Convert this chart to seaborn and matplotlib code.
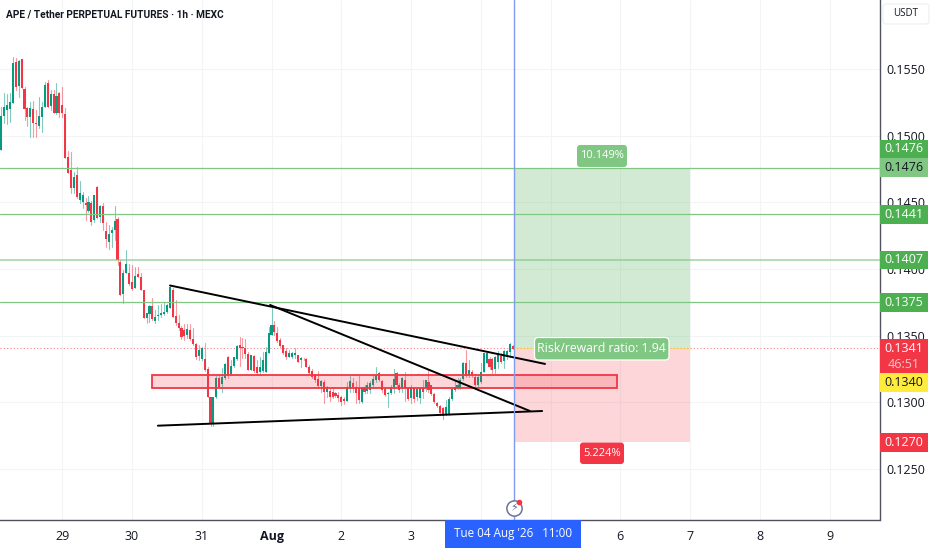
import numpy as np
import pandas as pd
import matplotlib
matplotlib.use("Agg")
import matplotlib.pyplot as plt
from matplotlib.patches import Rectangle, FancyBboxPatch
import seaborn as sns

first_hour = -21
opens = [.14892,.15147,.15192,.15197,.15242,.15555,.15372,.15572,.15347,.15210,
.15142,.15197,.15097,.15072,.15142,.15217,.15397,.15222,.15310,.15167,.15322,.15230,
.15162,.14842,.14742,.14605,.14705,.14517,.14505,.14492,.14435,.14492,.14367,.14617,.14392,.14475,.14287,.14205,.14267,.14292,.14372,.14055,.13810,.13967,.13967,.13900,.13855,.13960,.13937,.13842,.13635,.13662,.13725,.13610,.13647,.13655,.13662,.13680,.13710,.13842,.13647,.13597,
.13555,.13543,.13505,.13543,.13473,.13438,.13348,.13323,.13323,.13248,.13043,.12843,.13038,.13180,.13138,.13180,.13343,.13213,.13273,.13323,.13430,.13418,.13405,.13363,.13243,.13348,.13263,.13230,.13238,.13230,.13373,.13505,.13580,.13523,.13468,.13428,.13388,.13343,.13338,.13355,.13355,.13318,.13328,.13328,.13263,.13238,.13205,.13173,.13123,.13155,.13080,.13085,.13080,.13068,.13055,.13038,.13023,.13013,
.13105,.13143,.13118,.13105,.13005,.13118,.13088,.13093,.13130,.13168,.13218,.13163,.13098,.13063,.13073,.13113,.13218,.13130,.13105,.13168,.13105,.13030,.13105,.13043,.13030,.13105,.13105,.13155,.13130,.13063,.12998,.12973,.12955,.12905,.12905,.13023,.13093,.13105,.13105,.13173,.13293,.13205,.13230,.13193,.13130,.13155,.13230,.13298,.13323,.13323,.13248,.13305,.13348,.13313,.13338,.13380,.13423]
closes = [.15147,.15217,.15230,.15250,.15542,.15367,.15562,.15355,.15197,.15137,.15205,.15092,.15084,.15147,.15217,.15380,.15217,.15310,.15167,.15297,.15172,.15167,
.14830,.14722,.14605,.14692,.14537,.14572,.14555,.14480,.14505,.14355,.14555,.14385,.14475,.14342,.14225,.14260,.14292,.14360,.14067,.13805,.13972,.14037,.13885,.13847,.13947,.13942,.13842,.13635,.13667,.13722,.13622,.13637,.13655,.13672,.13680,.13730,.13862,.13642,.13592,.13555,
.13488,.13498,.13548,.13473,.13438,.13338,.13393,.13410,.13243,.13043,.12843,.13038,.13180,.13118,.13188,.13288,.13205,.13273,.13343,.13425,.13405,.13405,.13363,.13243,.13355,.13238,.13223,.13268,.13318,.13380,.13518,.13580,.13530,.13463,.13423,.13368,.13338,.13373,.13368,.13373,.13305,.13330,.13323,.13268,.13223,.13193,.13168,.13123,.13163,.13080,.13118,.13038,.13043,.13048,.13030,.13005,.13013,.13118,
.13163,.13113,.13073,.13018,.13105,.13080,.13130,.13148,.13173,.13205,.13168,.13093,.13055,.13073,.13118,.13173,.13130,.13093,.13180,.13105,.13023,.13118,.13023,.13098,.13105,.13080,.13168,.13093,.13063,.13005,.12973,.12918,.12900,.12963,.13023,.13098,.13118,.13130,.13168,.13298,.13198,.13243,.13205,.13130,.13188,.13230,.13368,.13368,.13268,.13243,.13338,.13355,.13305,.13388,.13388,.13438,.13403]
highs = [.15217,.15317,.15310,.15322,.15592,.15580,.15567,.15572,.15367,.15217,.15255,.15260,.15192,.15292,.15255,.15405,.15417,.15342,.15342,.15397,.15330,.15367,
.15205,.14885,.14875,.14730,.14762,.14660,.14580,.14530,.14547,.14510,.14555,.14622,.14480,.14492,.14355,.14330,.14317,.14472,.14392,.14067,.13992,.14142,.14037,.14030,.14012,.14017,.13967,.13842,.13672,.13730,.13780,.13692,.13730,.13737,.13742,.13737,.13880,.13855,.13767,.13655,
.13573,.13588,.13588,.13588,.13555,.13443,.13430,.13418,.13443,.13263,.13043,.13043,.13198,.13205,.13255,.13293,.13348,.13318,.13343,.13430,.13493,.13480,.13473,.13380,.13355,.13355,.13318,.13343,.13380,.13418,.13568,.13705,.13613,.13568,.13480,.13430,.13405,.13393,.13380,.13405,.13355,.13338,.13330,.13330,.13280,.13248,.13210,.13238,.13168,.13168,.13123,.13098,.13105,.13080,.13080,.13048,.13043,.13155,
.13198,.13180,.13163,.13205,.13118,.13130,.13155,.13163,.13205,.13268,.13230,.13168,.13105,.13080,.13130,.13248,.13230,.13143,.13193,.13230,.13118,.13130,.13118,.13105,.13118,.13168,.13168,.13243,.13130,.13068,.13005,.12980,.12963,.13018,.13043,.13105,.13168,.13180,.13180,.13305,.13393,.13318,.13243,.13205,.13198,.13293,.13373,.13368,.13338,.13330,.13348,.13388,.13368,.13393,.13393,.13448,.13430]
lows = [.14892,.15092,.15084,.15105,.15242,.15342,.15292,.15355,.15117,.15072,.14992,.14992,.14992,.15054,.15030,.15217,.15217,.15192,.15167,.15162,.15142,.15137,
.14830,.14722,.14572,.14567,.14530,.14497,.14455,.14367,.14430,.14330,.14355,.14380,.14355,.14292,.14167,.14150,.14167,.14217,.14030,.13805,.13747,.13967,.13880,.13842,.13855,.13937,.13842,.13630,.13592,.13605,.13617,.13597,.13617,.13642,.13655,.13672,.13710,.13642,.13580,.13547,
.13473,.13468,.13480,.13468,.13430,.13323,.13318,.13318,.13238,.13043,.12823,.12823,.13030,.13113,.13080,.13173,.13180,.13205,.13263,.13318,.13273,.13330,.13330,.13243,.13243,.13230,.13205,.13205,.13230,.13230,.13373,.13505,.13505,.13455,.13418,.13363,.13328,.13338,.13330,.13330,.13300,.13263,.13318,.13263,.13213,.13180,.13155,.13113,.13080,.12998,.13043,.13013,.13030,.13038,.13013,.12980,.12988,.13013,
.13080,.13080,.12998,.12998,.12998,.13068,.13068,.13068,.13123,.13155,.13160,.13080,.13048,.12963,.13063,.13073,.13123,.13080,.13080,.13013,.13018,.12998,.13005,.13018,.12993,.13030,.13088,.13080,.13055,.12993,.12963,.12905,.12873,.12905,.12905,.13018,.13088,.13098,.13098,.13168,.13188,.13188,.13188,.13118,.13105,.13148,.13230,.13293,.13248,.13213,.13218,.13255,.13293,.13255,.13323,.13343,.13398]

price_ticks = [0.125, 0.130, 0.135, 0.140, 0.145, 0.150, 0.155]
day_hours = [0, 24, 48, 72, 96, 120, 144, 168, 192, 216, 240, 264]
day_labels = ["29", "30", "31", "Aug", "2", "3", "", "", "6", "7", "8", "9"]

level_prices = [0.1476, 0.1441, 0.1407, 0.1375]
last_price = 0.1341
entry_price = 0.1340
target_price = 0.1476
stop_price = 0.1270
position_hours = [155.3, 216.0]
zone_hours = [31.0, 191.0]
zone_prices = [0.13109, 0.13206]
cursor_hour = 155.3

trend_a = ([37.06, 166.1], [0.13877, 0.13289])
trend_b = ([71.5, 160.9], [0.13731, 0.12936])
trend_c = ([32.9, 165.1], [0.12826, 0.12936])

UP, DOWN = "#089981", "#f23645"
LEVEL = "#81c784"
sans = ["Open Sans", "DejaVu Sans"]

sns.set_theme(style="white")
plt.rcParams["font.family"] = sans

df = pd.DataFrame({"open": opens, "high": highs, "low": lows, "close": closes})
df["hour"] = np.arange(len(df)) + first_hour
df["dir"] = np.where(df["close"] >= df["open"], "up", "down")

fig = plt.figure(figsize=(9.32, 5.5), dpi=100, facecolor="white")
ax = fig.add_axes([0, 30 / 550, 879.5 / 932, 520 / 550])
ax.set_xlim(-21.44, 281.2)
ax.set_ylim(0.12119, 0.16017)

# grid
ax.set_xticks(day_hours)
ax.set_xticklabels(day_labels)
ax.set_yticks(price_ticks)
ax.set_yticklabels([f"{p:.4f}" for p in price_ticks])
ax.grid(True, color="#f3f4f6", lw=0.8)
ax.set_axisbelow(True)
ax.yaxis.tick_right()
ax.tick_params(axis="y", length=0, pad=5.2, labelsize=9, labelcolor="#131722", right=False)
ax.tick_params(axis="x", length=0, pad=7, labelsize=9, labelcolor="#131722", bottom=False)
for lab, t in zip(ax.get_xticklabels(), day_labels):
    if t == "Aug":
        lab.set_fontweight("bold")
for s in ("top", "left"):
    ax.spines[s].set_visible(False)
for s in ("right", "bottom"):
    ax.spines[s].set_color("#50535e")
    ax.spines[s].set_linewidth(1.0)

# position tool
ax.fill_between(position_hours, entry_price + 0.0001, target_price, color="#4caf50", alpha=0.25, lw=0, zorder=1)
ax.fill_between(position_hours, stop_price, entry_price + 0.0001, color="#f23645", alpha=0.2, lw=0, zorder=1)

# candle wicks through seaborn
wicks = df.melt(id_vars=["hour", "dir"], value_vars=["high", "low"], value_name="price")
sns.lineplot(data=wicks, x="hour", y="price", hue="dir", units="hour", estimator=None,
             palette={"up": UP, "down": DOWN}, lw=0.8, alpha=0.5, legend=False, ax=ax, zorder=2)
ax.set_xlabel("")
ax.set_ylabel("")

# candle bodies
bottoms = df[["open", "close"]].min(axis=1)
heights = np.maximum((df["close"] - df["open"]).abs(), 0.00006)
ax.bar(df["hour"], heights, bottom=bottoms, width=0.72,
       color=[UP if d == "up" else DOWN for d in df["dir"]], lw=0, zorder=3)

# levels
for p in level_prices:
    ax.axhline(p, color=LEVEL, lw=1.4 if p == 0.1407 else 0.9, alpha=0.6 if p == 0.1407 else 1, zorder=4)
ax.axhline(last_price, color=DOWN, lw=0.8, ls=(0, (1, 2)), alpha=0.6, zorder=2)
ax.plot(position_hours, [entry_price + 0.0001] * 2, color="#f0e050", lw=0.6, alpha=0.7, zorder=4)

# zone
ax.add_patch(Rectangle((zone_hours[0], zone_prices[0]), zone_hours[1] - zone_hours[0],
                       zone_prices[1] - zone_prices[0], fc=(0.95, 0.21, 0.27, 0.2),
                       ec=DOWN, lw=1.3, zorder=5))

# trend lines
for xs, ys in (trend_a, trend_b, trend_c):
    ax.plot(xs, ys, color="black", lw=1.4, zorder=6, solid_capstyle="round")

# cursor and icon
ax.plot([cursor_hour] * 2, [0.12119, 0.16017], color="#7f9bea", lw=1.0, zorder=7)
icon_t = ax.get_xaxis_transform()
ax.plot([cursor_hour], [12 / 520], "o", ms=11, mfc="white", mec="#6a7499", mew=1.1, transform=icon_t, zorder=8)
ax.text(cursor_hour, 12 / 520, "\u26a1", transform=icon_t, ha="center", va="center", fontsize=8,
        color="#5d6a9c", family="DejaVu Sans", zorder=9)
ax.plot([cursor_hour + 1.7], [18 / 520], "o", ms=3, mfc=DOWN, mec=DOWN, transform=icon_t, zorder=10)


def fx(x):
    return x / 932


def fy(y):
    return 1 - y / 550


def price_y(p):
    return 550 - ax.transData.transform((0, p))[1]


def box(x0, y0, x1, y1, color, ec="none", rounded=0, lw=0, z=4):
    if rounded:
        patch = FancyBboxPatch((x0, 550 - y1), x1 - x0, y1 - y0,
                               boxstyle=f"round,pad=0,rounding_size={rounded}",
                               fc=color, ec=ec, lw=lw, zorder=z, transform=None)
    else:
        patch = Rectangle((x0, 550 - y1), x1 - x0, y1 - y0, fc=color, ec=ec, lw=lw, zorder=z, transform=None)
    fig.add_artist(patch)


def label(x, y, s, color="white", size=9, z=5, **kw):
    kw.setdefault("ha", "center")
    fig.text(fx(x), fy(y), s, color=color, fontsize=size, va="center", zorder=z, **kw)


# price badges
def badge(p, text, color, tc="white", dy=0.0):
    y = price_y(p) + dy
    box(880, y - 9.2, 928, y + 9.2, color)
    label(904, y, text, tc)


badge(target_price, "0.1476", "#4caf50", dy=-18.7)
badge(target_price, "0.1476", LEVEL, tc="#131722")
badge(level_prices[1], "0.1441", "#4caf50")
badge(level_prices[2], "0.1407", "#4caf50")
badge(level_prices[3], "0.1375", "#4caf50")
box(880, 339, 928, 373, DOWN)
label(904, 348, f"{last_price:.4f}")
label(904, 364, "46:51", color="#f9c4c9")
box(880, 373, 928, 391.7, "#ffeb3b")
label(904, 382, f"{entry_price:.4f}", color="#131722")
badge(stop_price, f"{stop_price:.4f}", DOWN)

# USDT box
box(883, 4, 929, 24, "white", ec="#eceef2", rounded=3, lw=0.8)
label(906, 14, "USDT", color="#131722", size=7)

# text pills
box(534.5, 337.5, 669, 360, LEVEL, ec="white", rounded=4, lw=0.9, z=6)
label(601.5, 349, "Risk/reward ratio: 1.94", size=8.8, z=7)
box(577, 145, 627, 167, LEVEL, rounded=3, z=6)
label(602, 156, "10.149%", size=8, z=7)
box(580, 442.5, 624, 464, DOWN, rounded=3, z=6)
label(602, 453.5, "5.224%", size=8, z=7)

# crosshair date
box(445, 520, 581, 548, "#2962ff", z=6)
label(513, 534, "Tue 04 Aug '26   11:00", size=8.4, z=7)

# title
fig.text(fx(6), fy(14), "APE / Tether PERPETUAL FUTURES \u00b7 1h \u00b7 MEXC", color="#131722",
         fontsize=7.3, fontweight="bold", ha="left", va="center", family=["Roboto", "DejaVu Sans"])

fig.savefig("out.png", dpi=100, facecolor="white")
